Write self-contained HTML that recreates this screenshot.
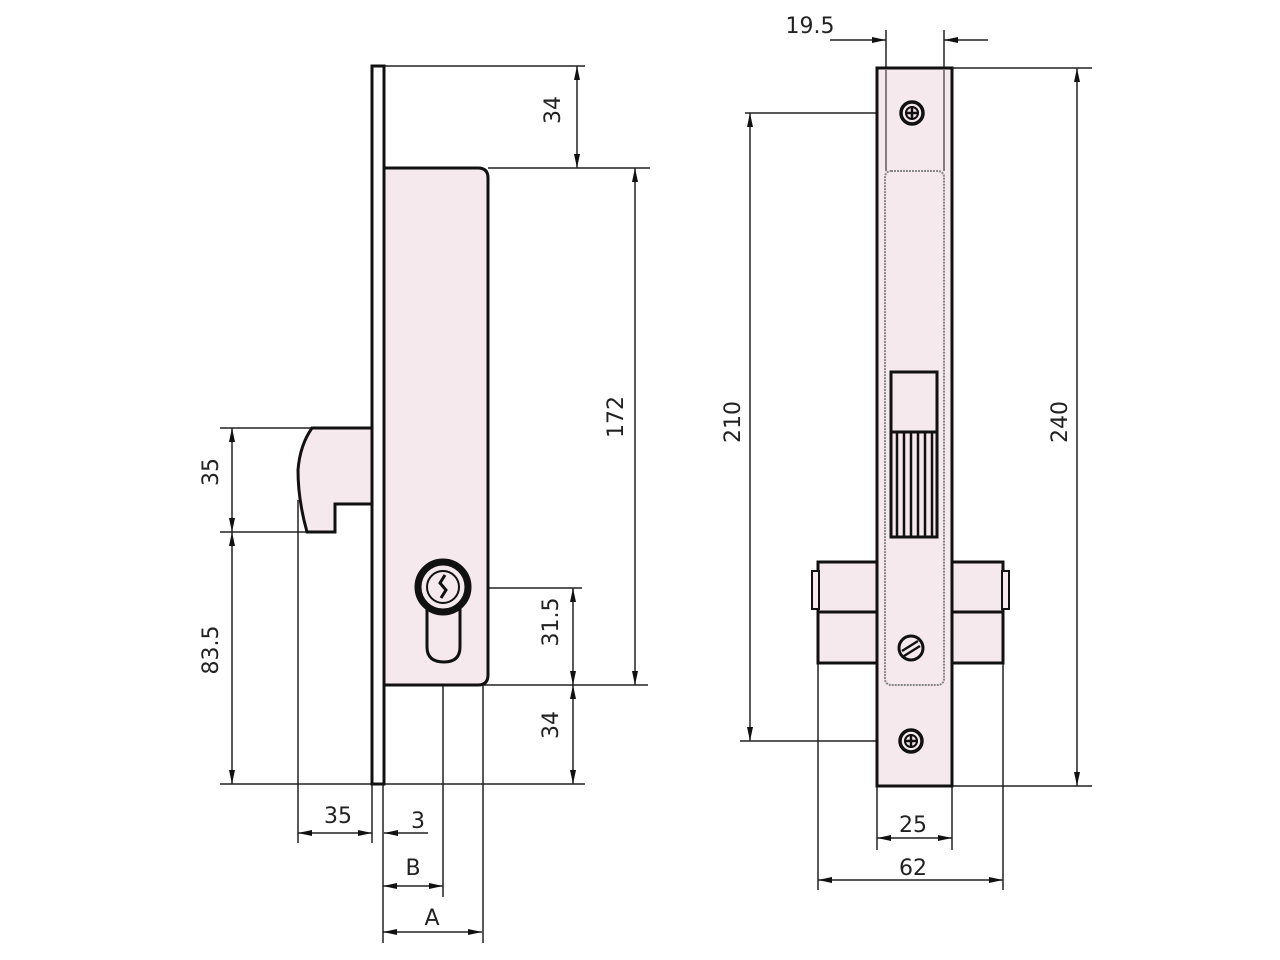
<!DOCTYPE html>
<html><head><meta charset="utf-8"><style>
html,body{margin:0;padding:0;background:#fff;}
svg{display:block;}
text{font-family:"DejaVu Sans","Liberation Sans",sans-serif;font-size:22px;fill:#222;}
</style></head><body>
<svg width="1280" height="960" viewBox="0 0 1280 960" xmlns="http://www.w3.org/2000/svg">
<defs>
<marker id="a" viewBox="0 0 14 6" refX="14" refY="3" markerWidth="14" markerHeight="6" markerUnits="userSpaceOnUse" orient="auto-start-reverse">
<path d="M0,0 L14,3 L0,6 Z" fill="#111"/></marker>
</defs>
<g fill="none" stroke="#222" stroke-width="1.5">
<line x1="384" y1="66" x2="585" y2="66"/>
<line x1="488" y1="168" x2="650" y2="168"/>
<line x1="443" y1="588" x2="582" y2="588"/>
<line x1="483" y1="685" x2="648" y2="685"/>
<line x1="220" y1="784" x2="585" y2="784"/>
<line x1="220" y1="428" x2="312" y2="428"/>
<line x1="220" y1="532" x2="307" y2="532"/>
<line x1="298" y1="500" x2="298" y2="843"/>
<line x1="372" y1="784" x2="372" y2="843"/>
<line x1="383" y1="784" x2="383" y2="943"/>
<line x1="443" y1="588" x2="443" y2="897"/>
<line x1="483" y1="685" x2="483" y2="943"/>
<line x1="577" y1="66" x2="577" y2="168" marker-start="url(#a)" marker-end="url(#a)"/>
<line x1="635" y1="168" x2="635" y2="685" marker-start="url(#a)" marker-end="url(#a)"/>
<line x1="573" y1="588" x2="573" y2="685" marker-start="url(#a)" marker-end="url(#a)"/>
<line x1="573" y1="685" x2="573" y2="784" marker-start="url(#a)" marker-end="url(#a)"/>
<line x1="232" y1="428" x2="232" y2="532" marker-start="url(#a)" marker-end="url(#a)"/>
<line x1="232" y1="532" x2="232" y2="784" marker-start="url(#a)" marker-end="url(#a)"/>
<line x1="298" y1="833" x2="372" y2="833" marker-start="url(#a)" marker-end="url(#a)"/>
<line x1="428" y1="833" x2="384" y2="833" marker-end="url(#a)"/>
<line x1="383" y1="886" x2="443" y2="886" marker-start="url(#a)" marker-end="url(#a)"/>
<line x1="383" y1="932" x2="482" y2="932" marker-start="url(#a)" marker-end="url(#a)"/>
<line x1="886" y1="30" x2="886" y2="68"/>
<line x1="944" y1="30" x2="944" y2="68"/>
<line x1="952" y1="68" x2="1092" y2="68"/>
<line x1="952" y1="786" x2="1092" y2="786"/>
<line x1="745" y1="113" x2="900" y2="113"/>
<line x1="740" y1="741" x2="900" y2="741"/>
<line x1="877" y1="786" x2="877" y2="850"/>
<line x1="952" y1="786" x2="952" y2="850"/>
<line x1="818" y1="663" x2="818" y2="890"/>
<line x1="1003" y1="663" x2="1003" y2="890"/>
<line x1="830" y1="40" x2="886" y2="40" marker-end="url(#a)"/>
<line x1="988" y1="40" x2="944" y2="40" marker-end="url(#a)"/>
<line x1="750" y1="113" x2="750" y2="741" marker-start="url(#a)" marker-end="url(#a)"/>
<line x1="1077" y1="68" x2="1077" y2="786" marker-start="url(#a)" marker-end="url(#a)"/>
<line x1="877" y1="838" x2="952" y2="838" marker-start="url(#a)" marker-end="url(#a)"/>
<line x1="818" y1="880" x2="1003" y2="880" marker-start="url(#a)" marker-end="url(#a)"/>
</g>
<g stroke="#111" stroke-width="3" fill="#f6e9ee">
<path d="M312,428 L377,428 L377,504 L335,504 L335,532 L307,532 Q298,500 298,470 Q300,445 312,428 Z"/>
<path d="M384,168 L478,168 Q488,168 488,178 L488,675 Q488,685 478,685 L384,685 Z"/>
<rect x="372" y="66" width="12" height="718" fill="#fff"/>
<path d="M427,600 L427,647 Q427,662 444,662 Q460,662 460,647 L460,600"/>
<circle cx="443" cy="587" r="25" stroke-width="7"/>
<circle cx="443" cy="587" r="16" stroke-width="2"/>
</g>
<path d="M445,575 L440,583 L446,590 L441,598" stroke="#111" stroke-width="3" fill="none"/>
<g stroke="#111" stroke-width="3" fill="#f6e9ee">
<rect x="818" y="562" width="59" height="101"/>
<rect x="952" y="562" width="51" height="101"/>
<rect x="812" y="571" width="7" height="38" stroke-width="2"/>
<rect x="1002" y="571" width="7" height="38" stroke-width="2"/>
<line x1="818" y1="612" x2="877" y2="612"/>
<line x1="952" y1="612" x2="1003" y2="612"/>
<rect x="877" y="68" width="75" height="718"/>
<rect x="885" y="171" width="59" height="514" rx="6" stroke="#888" stroke-width="2" stroke-dasharray="2 1"/>
<rect x="891" y="372" width="46" height="165"/>
<line x1="891" y1="432" x2="937" y2="432"/>
<circle cx="912" cy="113" r="11" stroke-width="3.5"/>
<circle cx="912" cy="113" r="6" stroke-width="2"/>
<circle cx="911" cy="741" r="11" stroke-width="3.5"/>
<circle cx="911" cy="741" r="6" stroke-width="2"/>
<circle cx="911" cy="648" r="12" stroke-width="3"/>
</g>
<g stroke="#444" stroke-width="1.3">
<line x1="886" y1="70" x2="886" y2="171"/>
<line x1="944" y1="70" x2="944" y2="171"/>
</g>
<g stroke="#111" stroke-width="2.5">
<line x1="897" y1="432" x2="897" y2="537"/><line x1="904" y1="432" x2="904" y2="537"/>
<line x1="911" y1="432" x2="911" y2="537"/><line x1="918" y1="432" x2="918" y2="537"/>
<line x1="925" y1="432" x2="925" y2="537"/><line x1="932" y1="432" x2="932" y2="537"/>
<line x1="902" y1="651" x2="918" y2="641"/><line x1="904" y1="656" x2="920" y2="646"/>
<line x1="912" y1="106" x2="912" y2="120"/><line x1="905" y1="113" x2="919" y2="113"/>
<line x1="911" y1="734" x2="911" y2="748"/><line x1="904" y1="741" x2="918" y2="741"/>
</g>
<text x="568" y="118" text-anchor="middle" transform="rotate(-90 560 118)">34</text>
<text x="623" y="433" text-anchor="middle" transform="rotate(-90 615 425)">172</text>
<text x="558" y="638" text-anchor="middle" transform="rotate(-90 550 630)">31.5</text>
<text x="558" y="741" text-anchor="middle" transform="rotate(-90 550 733)">34</text>
<text x="218" y="488" text-anchor="middle" transform="rotate(-90 210 480)">35</text>
<text x="218" y="666" text-anchor="middle" transform="rotate(-90 210 658)">83.5</text>
<text x="338" y="823" text-anchor="middle">35</text>
<text x="418" y="828" text-anchor="middle">3</text>
<text x="413" y="875" text-anchor="middle">B</text>
<text x="432" y="925" text-anchor="middle">A</text>
<text x="810" y="33" text-anchor="middle">19.5</text>
<text x="740" y="438" text-anchor="middle" transform="rotate(-90 732 430)">210</text>
<text x="1067" y="438" text-anchor="middle" transform="rotate(-90 1059 430)">240</text>
<text x="913" y="832" text-anchor="middle">25</text>
<text x="913" y="875" text-anchor="middle">62</text>
</svg>
</body></html>
